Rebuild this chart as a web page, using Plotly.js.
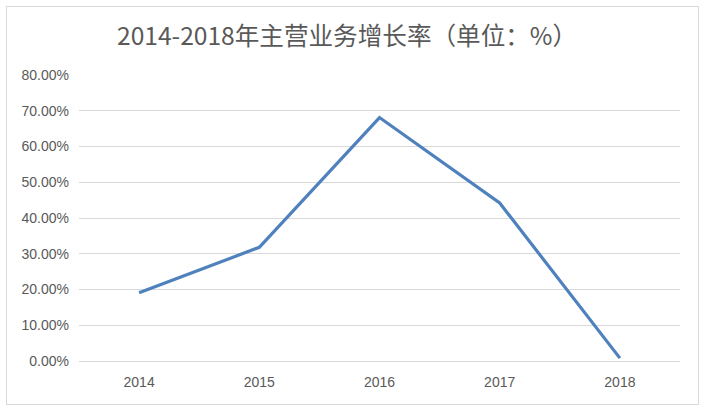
<!DOCTYPE html>
<html>
<head>
<meta charset="utf-8">
<script src="https://cdn.plot.ly/plotly-3.0.1.min.js"></script>
<style>
body{margin:0;padding:0;background:#fff;}
#wrap{position:relative;width:709px;height:412px;}
#chart{position:absolute;left:0;top:0;width:709px;height:412px;}
#frame{position:absolute;left:6px;top:6px;width:691px;height:397px;border:1px solid #d9d9d9;pointer-events:none;}
</style>
</head>
<body>
<div id="wrap"><div id="chart"></div><div id="frame"></div></div>
<script>
var years = ['2014', '2015', '2016', '2017', '2018'];
var growthRate = [0.191, 0.318, 0.681, 0.442, 0.008];
var chartTitle = '2014-2018年主营业务增长率（单位：%）';

var trace = {
  x: years,
  y: growthRate,
  type: 'scatter',
  mode: 'lines',
  line: {color: '#4f81bd', width: 3.2},
  hoverinfo: 'x+y'
};

var layout = {
  width: 709,
  height: 412,
  paper_bgcolor: 'rgba(0,0,0,0)',
  plot_bgcolor: 'rgba(0,0,0,0)',
  margin: {l: 79, r: 29, t: 75, b: 51},
  showlegend: false,
  title: {
    text: chartTitle,
    x: 0.4895,
    xanchor: 'center',
    y: 0.912,
    yanchor: 'middle',
    font: {family: '"Noto Sans CJK SC", "Noto Sans", sans-serif', size: 24.6, color: '#595959'}
  },
  xaxis: {
    type: 'category',
    range: [-0.5, 4.5],
    showgrid: false,
    zeroline: false,
    showline: false,
    ticks: '',
    ticklabelstandoff: 11,
    tickfont: {family: '"Liberation Sans", Arial, sans-serif', size: 14, color: '#595959'}
  },
  yaxis: {
    range: [0, 0.8],
    dtick: 0.1,
    tick0: 0,
    tickformat: '.2%',
    showgrid: true,
    gridcolor: '#d9d9d9',
    gridwidth: 1,
    zeroline: true,
    zerolinecolor: '#d9d9d9',
    zerolinewidth: 1,
    showline: false,
    ticks: '',
    ticklabelstandoff: 9,
    tickfont: {family: '"Liberation Sans", Arial, sans-serif', size: 14, color: '#595959'}
  }
};

Plotly.newPlot('chart', [trace], layout, {displayModeBar: false, staticPlot: true});
</script>
</body>
</html>
